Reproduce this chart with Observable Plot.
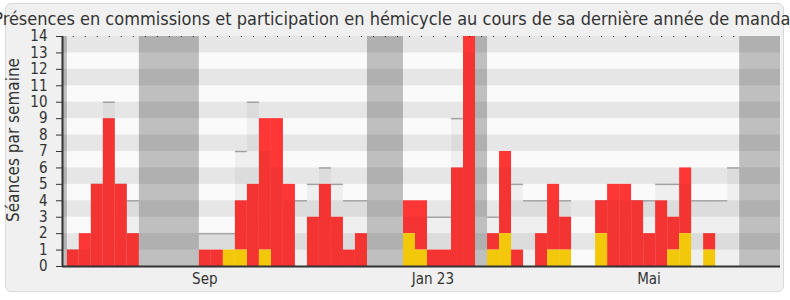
<!DOCTYPE html>
<html><head><meta charset="utf-8">
<script src="https://cdn.jsdelivr.net/npm/d3@7"></script>
<script src="https://cdn.jsdelivr.net/npm/@observablehq/plot@0.6"></script>
<style>
html,body{margin:0;padding:0;background:#fff;}
#wrap{position:relative;width:790px;height:300px;overflow:hidden;font-family:"DejaVu Sans Condensed","DejaVu Sans",sans-serif;font-stretch:condensed;color:#333;}
#box{position:absolute;left:5px;top:3px;width:779px;height:289px;border:1px solid #d9d9d9;border-radius:6px;background:#f0f0f0;box-sizing:border-box;}
#title{position:absolute;left:0;top:8px;width:790px;display:flex;justify-content:center;white-space:nowrap;font-size:18px;line-height:21px;}
#ylabel{position:absolute;left:13px;top:140px;transform:translate(-50%,-50%) rotate(-90deg);white-space:nowrap;font-size:17px;line-height:18px;}
#chart{position:absolute;left:0;top:0;}
</style></head><body>
<div id="wrap"><div id="box"></div><div id="chart"></div><div id="title"></div><div id="ylabel"></div></div>
<script>
const title = "Présences en commissions et participation en hémicycle au cours de sa dernière année de mandat";
const yLabel = "Séances par semaine";
// weekly values (null = parliamentary recess)
const hemicycle  = [0,0,0,0,0,0, null,null,null,null,null, 0,0,1,1,0,1,0,0,0, 0,0,0,0,0, null,null,null, 2,1,0,0,0,0, null, 1,2,0,0,0, 1,1,0,0,2,0,0,0,0,0, 1,2,0,1,0,0];
const commission = [1,2,5,9,5,2, null,null,null,null,null, 1,1,0,3,5,8,9,5,0, 3,5,3,1,2, null,null,null, 2,3,1,1,6,14, null, 1,5,1,0,2, 4,2,0,0,2,5,5,4,2,4, 2,4,0,1,0,0];
const presence   = [1,1,5,10,5,4, null,null,null,null,null, 2,2,2,7,10,7,6,4,4, 5,6,5,4,4, null,null,null, 3,3,3,3,9,13, null, 3,6,5,4,4, 4,4,0,0,4,4,4,4,4,5, 5,5,4,4,4,6];
const recesses = [[-1,0],[6,11],[25,28],[34,35],[56,60]];
const monthWeeks = [11, 30, 48];
const monthLabels = ["Sep", "Jan 23", "Mai"];
const yTicks = [0,1,2,3,4,5,6,7,8,9,10,11,12,13,14];
const xDomain = [-0.4, 59.4];

const rows = commission.map((c, i) => ({week: i, hemi: hemicycle[i], comm: c, pres: presence[i]}))
  .filter(d => d.comm !== null);
const stripes = yTicks.filter(t => t % 2 === 1);

document.getElementById("title").textContent = title;
document.getElementById("ylabel").textContent = yLabel;

const chart = Plot.plot({
  width: 790, height: 300,
  marginLeft: 62, marginRight: 10, marginTop: 36, marginBottom: 34,
  style: {background: "transparent", fontFamily: '"DejaVu Sans Condensed","DejaVu Sans",sans-serif', fontSize: "15px", color: "#333", fontStretch: "condensed"},
  x: {domain: xDomain},
  y: {domain: [0, 14]},
  marks: [
    Plot.frame({fill: "#fafafa", stroke: null}),
    Plot.rectY(stripes, {y1: d => d, y2: d => d + 1, fill: "#e6e6e6"}),
    Plot.ruleY(rows.filter(d => d.pres > 0), {y: "pres", x1: "week", x2: d => d.week + 1, stroke: "#a9a9a9", strokeWidth: 1.5}),
    Plot.rectY(rows, {x1: "week", x2: d => d.week + 1, y1: "hemi", y2: d => d.hemi + d.comm, fill: "#ff3636", inset: 0}),
    Plot.rectY(rows, {x1: "week", x2: d => d.week + 1, y1: 0, y2: "hemi", fill: "#fed20b", inset: 0}),
    Plot.rectY(rows, {x1: "week", x2: d => d.week + 1, y1: 0, y2: "pres", fill: "#000", fillOpacity: 0.045, inset: 0}),
    Plot.rect(recesses, {x1: d => d[0], x2: d => d[1], fill: "#000", fillOpacity: 0.235, clip: true}),
    Plot.axisY({ticks: yTicks, tickSize: 6, tickPadding: 9, tickFormat: d => String(d), label: null, stroke: "#333"}),
    Plot.axisX({ticks: monthWeeks.map(w => w + 0.45), tickFormat: (d, i) => monthLabels[i], tickSize: 0, tickPadding: 7, label: null}),
    Plot.axisX({anchor: "top", ticks: commission.map((c, i) => i + 0.5), tickSize: 1, tickFormat: () => "", label: null, stroke: "#222"}),
    Plot.ruleY([0], {stroke: "#333", strokeWidth: 2}),
    Plot.ruleX([xDomain[0]], {stroke: "#333", strokeWidth: 2})
  ]
});
document.getElementById("chart").appendChild(chart);
</script>
</body></html>
